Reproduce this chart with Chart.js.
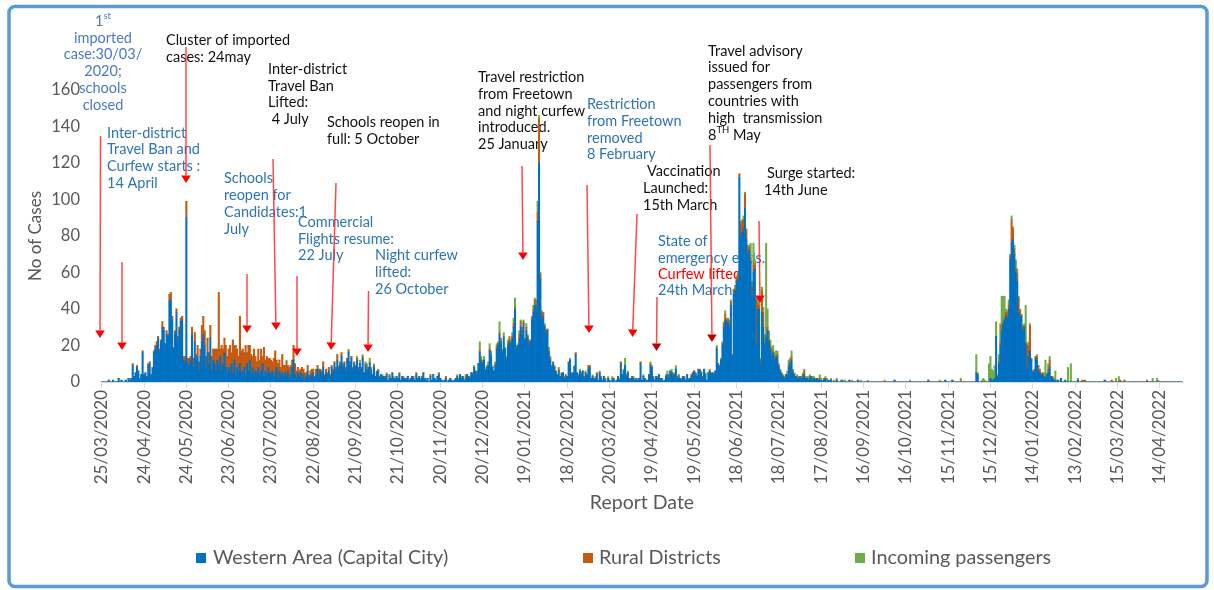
<!DOCTYPE html>
<html>
<head>
<meta charset="utf-8">
<title>Daily cases by report date</title>
<script src="https://cdn.jsdelivr.net/npm/chart.js@4.4.0/dist/chart.umd.min.js"></script>
<style>
  html, body { margin: 0; padding: 0; background: #fff; }
  canvas { display: block; }
</style>
</head>
<body>
<canvas id="myChart" width="1214" height="590"></canvas>
<script>
// daily values from 25/03/2020 to 30/04/2022 (767 days)
const westernArea = [
  0,0,0,0,0,1,0,0,1,0, 0,0,2,0,1,0,0,1,0,2, 1,2,9,3,5,8,6,2,4,16,
  4,5,3,9,10,4,7,16,18,20, 24,16,22,30,28,20,26,25,44,45, 34,18,26,38,22,28,33,34,12,11,
  90,10,9,12,26,8,22,12,14,6, 14,22,26,20,8,16,10,24,6,12, 10,6,12,9,14,6,10,16,8,5,
  8,6,10,5,12,4,8,6,10,5, 6,8,4,10,6,12,5,8,4,6, 5,8,4,6,10,3,6,4,8,5,
  4,6,3,5,8,2,6,4,5,3, 5,3,6,2,4,8,12,4,2,5, 3,5,2,4,1,3,6,2,4,3,
  5,2,4,7,3,6,4,8,3,5, 4,6,3,8,5,10,6,12,7,9, 14,8,10,6,12,16,9,13,7,10,
  8,12,6,10,7,13,5,9,6,8, 10,6,4,8,3,5,6,2,4,3, 3,2,4,1,3,2,5,2,1,3,
  2,4,1,3,2,1,2,3,1,2, 3,2,1,4,2,3,1,2,5,2, 1,2,0,3,1,4,2,1,3,4,
  2,1,0,1,2,0,1,2,1,0, 1,2,3,1,4,2,3,1,2,4, 3,2,5,4,8,6,4,10,16,11,
  10,12,6,8,9,17,14,8,6,9, 18,20,26,22,16,24,18,12,20,22, 21,24,30,40,18,20,24,30,26,32,
  22,28,24,20,22,34,38,42,40,88, 120,56,34,36,30,26,28,16,12,8, 10,8,5,4,6,3,4,5,2,3,
  3,10,12,4,5,8,15,5,3,6, 4,6,2,5,3,7,8,2,3,1, 2,4,1,5,2,1,3,1,0,2,
  1,0,2,1,0,1,3,1,10,4, 6,9,3,5,2,1,3,2,1,2, 1,2,10,1,3,2,1,0,4,9,
  8,2,1,3,2,4,1,2,0,1, 3,4,2,6,5,3,4,7,2,3, 2,1,3,2,1,4,1,2,3,5,
  6,4,3,7,6,5,2,7,4,1, 5,6,4,5,4,6,18,10,8,12, 20,30,34,32,33,30,42,14,48,50,
  55,56,112,80,82,84,95,78,70,72, 66,46,60,62,20,40,40,10,38,30, 20,24,28,22,18,14,16,12,13,14,
  8,6,4,3,2,4,3,8,10,12, 5,4,3,2,2,3,1,3,4,2, 2,1,2,3,1,2,1,2,1,1,
  1,0,1,2,0,1,0,1,0,0, 0,1,0,0,0,1,0,0,0,0, 1,0,0,0,0,0,1,0,0,0,
  0,0,0,0,0,0,0,0,0,0, 0,0,0,0,0,0,0,0,0,0, 0,0,1,0,0,0,0,0,0,0,
  0,0,0,0,0,0,0,0,0,0, 0,0,0,0,0,0,1,0,0,0, 0,0,0,0,0,0,0,0,1,0,
  0,0,0,1,0,0,0,0,0,0, 0,0,0,0,0,0,0,0,0,0, 5,4,0,0,0,0,0,0,0,0,
  2,1,1,2,25,3,10,20,28,32, 34,36,35,40,67,76,78,70,60,55, 38,36,36,28,30,21,8,14,17,12,
  5,6,13,12,6,5,4,4,3,2, 4,5,8,3,2,1,1,0,1,0, 2,0,0,1,0,0,0,0,0,0,
  0,0,1,0,0,0,0,0,0,0, 0,0,0,0,0,0,0,0,0,0, 0,1,0,0,0,0,0,0,0,0,
  0,0,0,0,0,0,0,0,0,0, 0,0,0,0,0,0,0,0,0,0, 0,0,0,0,0,0,0,0,0,0,
  0,0,0,0,0,0,0,0,0,0, 0,0,0,0,0,0,0
];
const ruralDistricts = [
  0,0,0,0,0,0,0,0,0,0, 0,0,0,0,0,0,0,0,0,0, 0,0,1,0,0,1,0,0,0,1,
  0,0,0,1,1,0,1,1,2,2, 1,2,1,3,2,1,2,1,4,4, 2,1,2,2,3,2,2,2,2,3,
  9,3,4,2,4,5,5,3,6,5, 4,9,10,8,6,8,6,7,8,6, 8,12,6,40,4,14,8,8,12,9,
  10,14,6,18,8,16,10,8,26,12, 12,8,16,6,14,8,10,6,14,8, 6,10,8,12,4,16,6,10,5,8,
  8,5,10,12,4,8,6,4,10,6, 4,8,3,6,5,4,8,6,4,3, 3,2,6,3,4,2,3,1,2,4,
  2,1,3,2,4,1,2,3,1,2, 1,2,1,1,2,1,2,3,1,2, 2,1,1,2,1,1,2,1,1,1,
  1,1,2,0,1,1,0,1,1,0, 1,1,0,1,0,1,0,1,0,0, 0,1,0,0,1,0,0,0,1,0,
  0,1,0,0,0,1,0,0,0,0, 0,1,0,1,0,0,0,1,0,0, 0,0,0,1,0,0,0,0,0,1,
  0,0,0,0,1,0,0,0,0,0, 0,0,0,1,0,0,0,0,1,0, 0,0,0,1,0,0,1,0,1,1,
  1,0,1,0,0,1,1,0,0,1, 1,1,1,0,1,1,0,1,1,2, 1,1,2,1,1,0,2,3,2,1,
  1,2,1,2,1,1,2,3,2,5, 24,3,4,2,1,2,1,1,1,1, 1,0,1,0,1,0,1,0,0,1,
  0,1,0,1,0,0,1,0,1,0, 1,0,1,0,1,2,1,0,0,1, 0,1,0,0,1,0,0,1,0,0,
  0,0,0,1,0,0,0,0,1,0, 0,0,1,0,0,1,0,0,0,0, 0,0,1,0,0,0,0,1,0,1,
  0,1,0,0,0,0,1,0,0,0, 0,0,1,0,0,1,0,0,0,1, 0,0,0,1,0,0,0,0,1,0,
  0,1,0,0,1,0,1,0,0,0, 0,0,1,0,0,0,1,0,1,0, 1,2,3,2,1,2,2,1,2,1,
  2,3,2,6,6,5,8,5,3,2, 2,6,4,3,25,3,2,2,12,8, 2,2,2,1,2,1,1,2,1,1,
  1,0,1,0,0,0,1,1,1,2, 1,0,0,1,0,0,1,1,2,0, 0,0,1,0,0,0,0,0,0,1,
  0,0,1,0,0,0,0,0,0,0, 0,0,0,0,0,0,0,0,0,0, 0,0,0,0,0,0,0,0,0,0,
  0,0,0,0,0,0,0,0,0,0, 0,0,0,0,0,0,0,0,0,0, 0,0,0,0,0,0,0,0,0,0,
  0,0,0,0,0,0,0,0,0,0, 0,0,0,0,0,0,0,0,0,0, 0,0,0,0,0,0,0,0,0,0,
  0,0,0,0,0,0,0,0,0,0, 0,0,0,0,0,0,0,0,0,0, 0,0,0,0,0,0,0,0,0,0,
  0,0,0,0,0,0,1,2,3,1, 1,2,3,2,2,13,6,3,2,4, 8,3,1,2,1,1,12,6,14,1,
  1,0,1,2,3,2,0,1,0,0, 0,2,4,0,1,0,0,0,0,0, 0,0,0,0,0,0,0,0,0,0,
  0,0,0,0,0,1,0,1,0,0, 0,0,0,0,0,0,0,0,0,0, 0,0,0,0,0,0,1,0,0,0,
  0,0,1,0,0,1,0,0,0,0, 0,0,0,0,0,0,0,0,0,0, 0,1,0,0,0,0,0,0,0,0,
  0,0,0,0,0,0,0,0,0,0, 0,0,0,0,0,0,0
];
const incomingPassengers = [
  0,0,0,0,0,0,0,0,0,0, 0,0,0,0,0,0,0,0,0,0, 0,0,0,0,0,0,0,0,0,0,
  0,0,0,0,0,0,0,0,0,0, 0,0,0,0,0,0,0,0,0,0, 0,0,0,0,0,0,0,0,0,0,
  0,0,0,0,0,0,0,0,0,0, 0,0,0,0,0,0,0,0,0,0, 0,0,0,0,0,0,0,0,0,0,
  0,0,0,0,0,0,0,0,0,0, 0,0,0,0,0,0,0,0,0,0, 0,0,0,0,0,0,0,0,0,0,
  0,0,0,0,0,0,0,0,0,0, 0,1,0,0,0,0,0,0,0,0, 0,0,0,0,0,0,0,1,0,0,
  0,0,0,0,0,0,0,0,0,0, 0,0,0,0,0,0,0,0,1,0, 0,1,0,0,0,1,0,0,0,0,
  0,1,0,2,0,1,0,1,3,0, 2,1,0,1,0,0,1,0,0,1, 0,0,1,0,0,0,0,1,0,0,
  0,0,0,0,1,0,0,0,0,0, 0,0,0,0,0,0,1,0,0,0, 0,0,0,0,0,0,0,0,0,0,
  0,0,0,0,0,0,0,0,0,0, 0,0,1,0,0,1,0,0,1,0, 0,1,0,0,1,0,1,0,5,2,
  1,2,0,1,2,3,2,1,0,1, 2,1,6,2,1,2,1,1,2,1, 1,2,3,5,1,1,2,1,2,1,
  1,2,1,1,0,1,2,1,3,6, 2,1,1,0,1,1,0,2,1,0, 0,1,0,0,1,0,0,0,1,0,
  0,0,1,0,0,1,0,0,0,1, 0,0,0,1,0,0,0,0,1,0, 1,0,0,1,0,0,0,0,0,1,
  0,0,1,0,0,0,0,1,0,0, 1,4,0,1,0,0,0,1,0,0, 0,0,0,0,1,0,0,0,0,1,
  1,0,0,0,1,0,0,0,1,0, 1,2,1,0,2,1,1,2,1,0, 0,1,0,0,0,0,1,0,0,0,
  0,0,1,0,0,1,0,0,1,0, 0,1,0,0,1,0,1,0,0,1, 1,1,2,1,1,2,1,0,1,2,
  1,1,0,2,1,2,1,1,2,1, 8,3,12,2,1,3,3,1,2,3, 4,50,10,5,3,4,3,2,3,2,
  1,1,0,1,1,0,2,3,2,3, 1,1,0,1,1,0,1,1,1,1, 1,2,1,0,2,1,1,0,1,2,
  1,1,0,1,2,0,1,1,0,1, 0,1,0,0,1,0,0,1,0,0, 0,0,1,0,0,0,0,0,1,0,
  0,0,0,1,0,0,0,0,0,0, 0,0,0,0,0,1,0,0,0,0, 0,0,0,0,0,0,0,0,0,0,
  0,0,0,1,0,0,0,0,0,0, 0,0,0,0,0,0,0,0,0,0, 0,0,0,0,1,0,0,0,0,0,
  0,0,0,0,0,0,0,0,0,2, 0,0,0,0,0,0,0,0,0,0, 10,1,0,0,1,2,1,0,0,10,
  12,6,5,7,8,1,4,10,16,14, 12,2,1,3,1,2,1,2,5,3, 1,1,0,1,1,20,1,2,1,0,
  0,1,0,1,0,0,1,0,2,10, 1,3,2,0,0,1,5,1,0,0, 0,0,0,0,0,8,0,10,0,0,
  0,0,1,0,0,0,1,0,0,0, 0,0,0,0,0,0,0,0,0,0, 0,0,0,0,0,0,0,0,0,2,
  0,3,0,0,0,0,0,0,0,0, 0,0,0,0,0,0,0,0,0,0, 0,0,0,0,0,2,0,0,2,1,
  0,0,0,0,0,0,0,0,0,0, 0,0,0,0,0,0,0
];

const tickLabels = ['25/03/2020','24/04/2020','24/05/2020','23/06/2020','23/07/2020','22/08/2020',
  '21/09/2020','21/10/2020','20/11/2020','20/12/2020','19/01/2021','18/02/2021','20/03/2021',
  '19/04/2021','19/05/2021','18/06/2021','18/07/2021','17/08/2021','16/09/2021','16/10/2021',
  '15/11/2021','15/12/2021','14/01/2022','13/02/2022','15/03/2022','14/04/2022'];

// one category per report day
const reportDates = [];
for (let d = new Date(Date.UTC(2020, 2, 25)); reportDates.length < westernArea.length; d.setUTCDate(d.getUTCDate() + 1)) {
  const dd = String(d.getUTCDate()).padStart(2, '0');
  const mm = String(d.getUTCMonth() + 1).padStart(2, '0');
  reportDates.push(dd + '/' + mm + '/' + d.getUTCFullYear());
}

const FONT = 'Lato, sans-serif';
const BLACK = '#111111', BLUE = '#2e75b6', LBLUE = '#4a78cc', RED = '#ff0000';

// annotation text lines: x, y (middle), text, colour, align
const notes = [
  [103, 21, '1^{st}', LBLUE, 'center'],
  [103, 38, 'imported', LBLUE, 'center'],
  [103, 54, 'case:30/03/', LBLUE, 'center'],
  [103, 71, '2020;', LBLUE, 'center'],
  [103, 88, 'schools', LBLUE, 'center'],
  [103, 105, 'closed', LBLUE, 'center'],
  [166, 40, 'Cluster of imported', BLACK],
  [166, 57, 'cases: 24may', BLACK],
  [268, 69, 'Inter-district', BLACK],
  [268, 86, 'Travel Ban', BLACK],
  [268, 102, 'Lifted:', BLACK],
  [268, 119, ' 4 July', BLACK],
  [327, 122, 'Schools reopen in', BLACK],
  [327, 139, 'full: 5 October', BLACK],
  [107, 133, 'Inter-district', BLUE],
  [107, 149, 'Travel Ban and', BLUE],
  [107, 166, 'Curfew starts :', BLUE],
  [107, 183, '14 April', BLUE],
  [224, 178, 'Schools', BLUE],
  [224, 195, 'reopen for', BLUE],
  [224, 212, 'Candidates:1', BLUE],
  [224, 229, 'July', BLUE],
  [298, 222, 'Commercial', BLUE],
  [298, 239, 'Flights resume:', BLUE],
  [298, 255, '22 July', BLUE],
  [375, 255, 'Night curfew', BLUE],
  [375, 272, 'lifted:', BLUE],
  [375, 289, '26 October', BLUE],
  [478, 77, 'Travel restriction', BLACK],
  [478, 94, 'from Freetown', BLACK],
  [478, 111, 'and night curfew', BLACK],
  [478, 127, 'introduced.', BLACK],
  [478, 144, '25 January', BLACK],
  [587, 104, 'Restriction', BLUE],
  [587, 121, 'from Freetown', BLUE],
  [587, 138, 'removed', BLUE],
  [587, 154, '8 February', BLUE],
  [647, 171, 'Vaccination', BLACK],
  [643, 188, 'Launched:', BLACK],
  [643, 205, '15th March', BLACK],
  [658, 241, 'State of', BLUE],
  [658, 258, 'emergency ends.', BLUE],
  [658, 274, 'Curfew lifted', RED],
  [658, 290, '24th March', BLUE],
  [708, 51, 'Travel advisory', BLACK],
  [708, 67, 'issued for', BLACK],
  [708, 84, 'passengers from', BLACK],
  [708, 101, 'countries with', BLACK],
  [708, 118, 'high  transmission', BLACK],
  [708, 135, '8^{TH} May', BLACK],
  [767, 173, 'Surge started:', BLACK],
  [764, 190, '14th June', BLACK]
];

// arrows: tail x, tail y, tip x, tip y, head colour
const arrows = [
  [100.5, 136, 100, 338, '#ff0000'],
  [122, 262, 122, 350, '#ff0000'],
  [186, 47, 186, 183, '#ff0000'],
  [247, 274, 247, 333, '#ff0000'],
  [273, 159, 276, 330, '#ff0000'],
  [297, 276, 297, 356, '#ff0000'],
  [336, 183, 331, 350, '#ff0000'],
  [368.5, 291, 368, 352, '#ff0000'],
  [522, 166, 523, 260, '#ff0000'],
  [587, 185, 589, 333, '#ff0000'],
  [637, 214, 632.5, 337, '#ff0000'],
  [657, 297, 656.5, 351, '#c00000'],
  [710, 145, 712, 342, '#c00000'],
  [759, 221, 760, 303, '#ff0000']
];

function drawLine(ctx, x, y, text, colour, align) {
  const parts = text.split(/\^\{([^}]*)\}/);
  const base = '14.5px ' + FONT, sup = '9.5px ' + FONT;
  let w = 0;
  parts.forEach((p, k) => { ctx.font = k % 2 ? sup : base; w += ctx.measureText(p).width; });
  let cx = align === 'center' ? x - w / 2 : x;
  ctx.fillStyle = colour;
  ctx.textAlign = 'left';
  ctx.textBaseline = 'middle';
  parts.forEach((p, k) => {
    ctx.font = k % 2 ? sup : base;
    ctx.fillText(p, cx, k % 2 ? y - 5 : y);
    cx += ctx.measureText(p).width;
  });
}

const decorations = {
  id: 'decorations',
  beforeDatasetsDraw(chart) {
    const ctx = chart.ctx;
    ctx.save();
    notes.forEach(n => drawLine(ctx, n[0], n[1], n[2], n[3], n[4]));
    ctx.restore();
  },
  afterDatasetsDraw(chart) {
    const ctx = chart.ctx;
    ctx.save();
    arrows.forEach(a => {
      const [x1, y1, x2, y2, head] = a;
      const ang = Math.atan2(y2 - y1, x2 - x1);
      const hl = 7.5, hw = 4.8;
      const bx = x2 - hl * Math.cos(ang), by = y2 - hl * Math.sin(ang);
      ctx.strokeStyle = 'rgba(255,40,40,0.85)';
      ctx.lineWidth = 1.5;
      ctx.beginPath();
      ctx.moveTo(x1, y1);
      ctx.lineTo(bx, by);
      ctx.stroke();
      ctx.fillStyle = head;
      ctx.beginPath();
      ctx.moveTo(x2, y2);
      ctx.lineTo(bx + hw * Math.sin(ang), by - hw * Math.cos(ang));
      ctx.lineTo(bx - hw * Math.sin(ang), by + hw * Math.cos(ang));
      ctx.closePath();
      ctx.fill();
    });
    ctx.restore();
  },
  afterDraw(chart) {
    const ctx = chart.ctx;
    ctx.save();
    // legend
    const items = [[196, 213], [583, 599], [855, 871]];
    ctx.font = '19.8px ' + FONT;
    ctx.textBaseline = 'middle';
    ctx.textAlign = 'left';
    chart.data.datasets.forEach((ds, k) => {
      ctx.fillStyle = ds.backgroundColor;
      ctx.fillRect(items[k][0], 553, 10, 10);
      ctx.fillStyle = '#595959';
      ctx.fillText(ds.label, items[k][1], 558);
    });
    // outer frame
    ctx.strokeStyle = '#5b9bd5';
    ctx.lineWidth = 3.5;
    ctx.beginPath();
    ctx.roundRect(9, 6.5, 1198, 580, 6);
    ctx.stroke();
    ctx.restore();
  }
};

const ctx = document.getElementById('myChart').getContext('2d');
const myChart = new Chart(ctx, {
  type: 'bar',
  data: {
    labels: reportDates,
    datasets: [
      { label: 'Western Area (Capital City)', data: westernArea, backgroundColor: '#0070c0' },
      { label: 'Rural Districts', data: ruralDistricts, backgroundColor: '#c55a11' },
      { label: 'Incoming passengers', data: incomingPassengers, backgroundColor: '#70ad47' }
    ]
  },
  options: {
    responsive: false,
    animation: false,
    datasets: { bar: { barPercentage: 1, categoryPercentage: 1, borderWidth: 0 } },
    layout: { padding: { top: 90, right: 31, bottom: 60, left: 0 } },
    scales: {
      x: {
        stacked: true,
        afterBuildTicks: s => { s.ticks = s.ticks.filter(t => tickLabels.includes(reportDates[t.value])); },
        afterFit: s => { s.height = 148; },
        grid: { drawOnChartArea: false, offset: false, color: '#d9d9d9', tickLength: 6 },
        border: { color: '#d9d9d9' },
        ticks: { autoSkip: false, minRotation: 90, maxRotation: 90, padding: 2, color: '#595959', font: { family: FONT, size: 17 } },
        title: { display: true, text: 'Report Date', color: '#595959', font: { family: FONT, size: 19.5 }, padding: { top: 0, bottom: 16 } }
      },
      y: {
        stacked: true,
        min: 0,
        max: 160,
        afterFit: s => { s.width = 101; },
        grid: { display: false, drawTicks: false },
        border: { display: false },
        ticks: { stepSize: 20, padding: 21, color: '#595959', font: { family: FONT, size: 16.5 } },
        title: { display: true, text: 'No of Cases', color: '#595959', font: { family: FONT, size: 17 }, padding: { top: 25, bottom: 0 } }
      }
    },
    plugins: { legend: { display: false }, tooltip: { enabled: false } }
  },
  plugins: [decorations]
});
</script>
</body>
</html>
